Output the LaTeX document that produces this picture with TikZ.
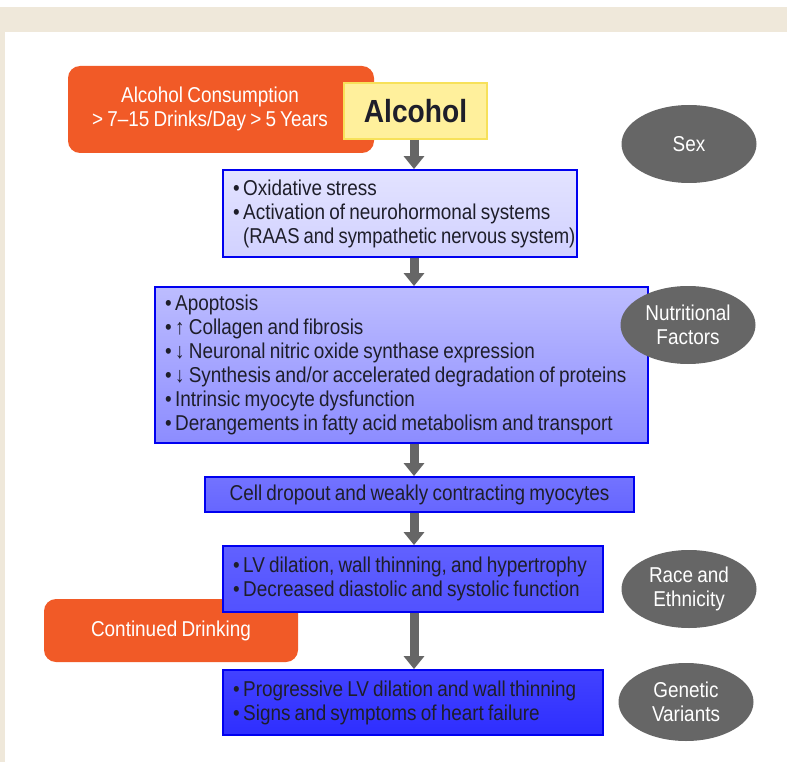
\documentclass[tikz,border=0pt]{standalone}
\usepackage{fontspec}
\usepackage{graphicx}
\setmainfont{Liberation Sans}[FakeStretch=0.88,WordSpace=0.8]
\usetikzlibrary{arrows.meta,shapes.geometric}
\definecolor{beige}{HTML}{EFE8DA}
\definecolor{orng}{HTML}{F15A27}
\definecolor{ylwfill}{HTML}{FFF09C}
\definecolor{ylwline}{HTML}{F7E15A}
\definecolor{gry}{HTML}{666666}
\definecolor{bluel}{HTML}{0000F0}
\definecolor{txt}{HTML}{1E1E2A}
\tikzset{
  x=1pt,y=-1pt,
  bodytext/.style={font=\fontsize{21.5}{24}\selectfont},
  bluebox/.style={draw=bluel,line width=1.8pt,rectangle,inner xsep=4pt,inner ysep=0pt,
    align=flush left,text=txt,bodytext},
  orangebox/.style={fill=orng,rounded corners=12pt,rectangle,inner sep=0pt},
  factor/.style={ellipse,fill=gry,text=white,inner sep=0pt,minimum width=135pt,
    minimum height=78pt,align=center,bodytext},
  garrow/.style={draw=gry,line width=9pt,-{Triangle[width=20pt,length=13pt]}},
}
\newcommand{\bul}{\hspace*{6pt}\textbullet\,}
\newcommand{\oneline}[1]{\makebox[0pt][l]{#1}}
\begin{document}
\begin{tikzpicture}
\useasboundingbox (0,0) rectangle (787,762);
% background
\fill[beige] (0,7) rectangle (787,32);
\fill[beige] (0,7) rectangle (5,762);

% orange consumption box
\node[orangebox,minimum width=306pt,minimum height=87pt] (acbox) at (221,109.5) {};
\node[text=white,align=center,bodytext,inner sep=0pt] (actext) at (210,109)
  {Alcohol Consumption\\ > 7–15 Drinks/Day > 5 Years};
% yellow alcohol box
\node[fill=ylwfill,draw=ylwline,line width=1.8pt,minimum width=143pt,minimum height=56pt,
  inner sep=0pt,font=\fontsize{32}{36}\selectfont\bfseries,text=txt] (alc) at (415.5,111) {Alcohol};

% box 1
\node[bluebox,top color=blue!11,bottom color=blue!18,minimum width=354pt,minimum height=87pt,
  text width=346pt] (b1) at (400,213.5)
  {\oneline{\bul Oxidative stress}\\ \oneline{\bul Activation of neurohormonal systems}\\
   \oneline{\phantom{\bul}\scalebox{0.975}[1]{(RAAS and sympathetic nervous system)}}};

% box 2
\node[bluebox,top color=blue!26,bottom color=blue!45,minimum width=493pt,minimum height=156pt,
  text width=485pt] (b2) at (401.5,365)
  {\oneline{\bul Apoptosis}\\ \oneline{\bul↑ Collagen and fibrosis}\\ \oneline{\bul↓ Neuronal nitric oxide synthase expression}\\
   \oneline{\bul↓ Synthesis and/or accelerated degradation of proteins}\\ \oneline{\bul Intrinsic myocyte dysfunction}\\
   \oneline{\bul Derangements in fatty acid metabolism and transport}};

% box 3
\node[bluebox,top color=blue!55,bottom color=blue!60,minimum width=429pt,minimum height=35pt,
  align=center] (b3) at (419.5,494.5)
  {Cell dropout and weakly contracting myocytes};

% continued drinking (behind box 4)
\node[orangebox,minimum width=254pt,minimum height=63pt,text=white,bodytext] (cd) at (171,630.5)
  {Continued Drinking};

% box 4
\node[bluebox,top color=blue!62,bottom color=blue!68,minimum width=380pt,minimum height=66pt,
  text width=372pt] (b4) at (413,579)
  {\oneline{\bul LV dilation, wall thinning, and hypertrophy}\\ \oneline{\bul Decreased diastolic and systolic function}};

% box 5
\node[bluebox,top color=blue!74,bottom color=blue!82,minimum width=380pt,minimum height=65pt,
  text width=372pt] (b5) at (413,702.5)
  {\oneline{\bul Progressive LV dilation and wall thinning}\\ \oneline{\bul Signs and symptoms of heart failure}};

% factor ellipses
\node[factor] (sex) at (689,144) {Sex};
\node[factor] (nut) at (688,325) {Nutritional\\Factors};
\node[factor] (race) at (689,589) {Race and\\Ethnicity};
\node[factor] (gen) at (686,702) {Genetic\\Variants};

% arrows
\coordinate (ax) at (414,0);
\draw[garrow] (ax |- alc.south) -- (ax |- b1.north);
\draw[garrow] (ax |- b1.south) -- (ax |- b2.north);
\draw[garrow] (ax |- b2.south) -- (ax |- b3.north);
\draw[garrow] (ax |- b3.south) -- (ax |- b4.north);
\draw[garrow] (ax |- b4.south) -- (ax |- b5.north);
\end{tikzpicture}
\end{document}
